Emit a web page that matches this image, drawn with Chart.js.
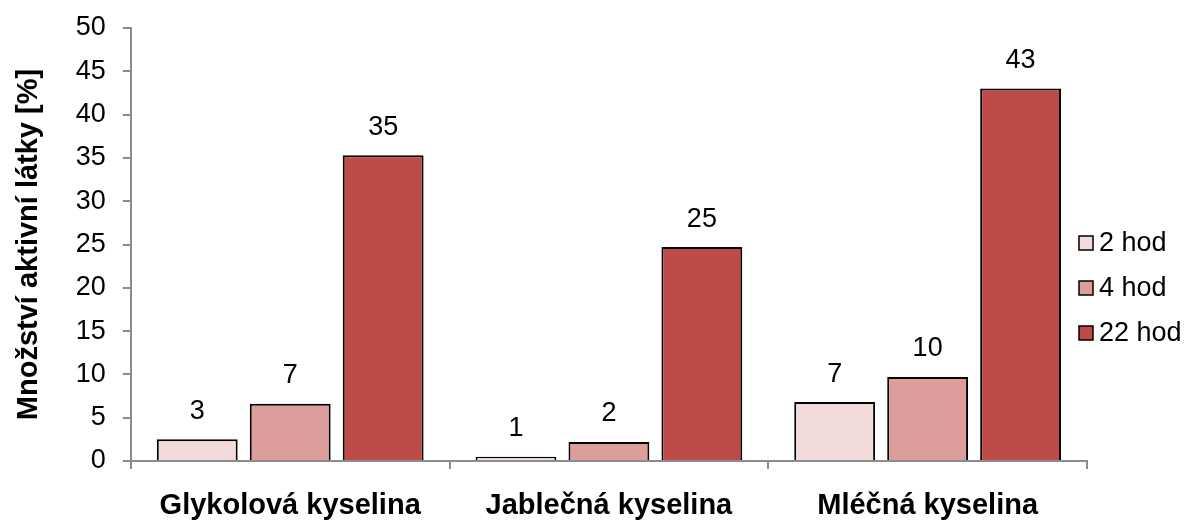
<!DOCTYPE html>
<html>
<head>
<meta charset="utf-8">
<script src="https://cdn.jsdelivr.net/npm/chart.js@4/dist/chart.umd.min.js"></script>
<style>
	html, body { margin: 0; padding: 0; background: #fff; }
	#wrap { width: 1189px; height: 520px; }
</style>
</head>
<body>
<div id="wrap"><canvas id="mycanvas" width="1189" height="520"></canvas></div>
<script>
var kategorie = ['Glykolová kyselina', 'Jablečná kyselina', 'Mléčná kyselina'];
var hod2 = [2.5, 0.5, 6.8];
var hod4 = [6.6, 2.2, 9.7];
var hod22 = [35.3, 24.7, 43.0];
var yTicks = [0, 5, 10, 15, 20, 25, 30, 35, 40, 45, 50];

var pismo = "'Liberation Sans', Arial, sans-serif";
var osaBarva = '#8c8c8c';

// popisky hodnot nad sloupci
var popisky = {
	id: 'popisky',
	afterDatasetsDraw: function(chart) {
		var ctx = chart.ctx;
		ctx.save();
		ctx.font = '27px ' + pismo;
		ctx.fillStyle = '#000';
		ctx.textAlign = 'center';
		ctx.textBaseline = 'middle';
		chart.data.datasets.forEach(function(ds, i) {
			var meta = chart.getDatasetMeta(i);
			meta.data.forEach(function(bar, j) {
				ctx.fillText(Math.round(ds.data[j]), bar.x, bar.y - 28);
			});
		});
		ctx.restore();
	}
};

// legenda vpravo (kreslena z datasetu)
var legenda = {
	id: 'legenda',
	afterDraw: function(chart) {
		var ctx = chart.ctx;
		var x = 1079, y0 = 243, krok = 45;
		ctx.save();
		ctx.font = '27px ' + pismo;
		ctx.textAlign = 'left';
		ctx.textBaseline = 'middle';
		chart.data.datasets.forEach(function(ds, i) {
			var y = y0 + i * krok;
			ctx.fillStyle = ds.backgroundColor;
			ctx.fillRect(x, y - 7, 14, 14);
			ctx.strokeStyle = '#000';
			ctx.lineWidth = 1.5;
			ctx.strokeRect(x, y - 7, 14, 14);
			ctx.fillStyle = '#000';
			ctx.fillText(ds.label, x + 20, y + 1);
		});
		ctx.restore();
	}
};

var chartdata = {
	labels: kategorie,
	datasets: [
		{ label: '2 hod', data: hod2, backgroundColor: '#F2DCDB' },
		{ label: '4 hod', data: hod4, backgroundColor: '#DC9D9D' },
		{ label: '22 hod', data: hod22, backgroundColor: '#BE4B48' }
	]
};
chartdata.datasets.forEach(function(ds) {
	ds.borderColor = '#000';
	ds.borderWidth = 2;
	ds.borderSkipped = 'bottom';
	ds.barPercentage = 0.87;
	ds.categoryPercentage = 0.875;
});

var ctx = document.getElementById('mycanvas');
var barGraph = new Chart(ctx, {
	type: 'bar',
	data: chartdata,
	plugins: [popisky, legenda],
	options: {
		responsive: false,
		animation: false,
		layout: { padding: { top: 0, right: 102, left: 8, bottom: 0 } },
		plugins: {
			legend: { display: false },
			tooltip: { enabled: false }
		},
		scales: {
			x: {
				afterFit: function(scale) { scale.height = 59; },
				grid: {
					display: true,
					offset: true,
					drawOnChartArea: false,
					drawTicks: true,
					tickLength: 8,
					color: osaBarva,
					lineWidth: 2
				},
				border: { color: osaBarva, width: 2 },
				ticks: {
					font: { family: pismo, size: 29, weight: 'bold' },
					color: '#000',
					padding: 20,
					maxRotation: 0
				}
			},
			y: {
				min: 0,
				max: 50,
				afterBuildTicks: function(axis) {
					axis.ticks = yTicks.map(function(v) { return { value: v }; });
				},
				afterFit: function(scale) { scale.paddingTop = 28; },
				grid: {
					display: true,
					drawOnChartArea: false,
					drawTicks: true,
					tickLength: 8,
					color: osaBarva,
					lineWidth: 2
				},
				border: { color: osaBarva, width: 2 },
				ticks: {
					font: { family: pismo, size: 27 },
					color: '#000',
					padding: 17
				},
				title: {
					display: true,
					text: 'Množství aktivní látky [%]',
					font: { family: pismo, size: 29, weight: 'bold' },
					color: '#000',
					padding: { top: 4, bottom: 12 }
				}
			}
		}
	}
});
</script>
</body>
</html>
